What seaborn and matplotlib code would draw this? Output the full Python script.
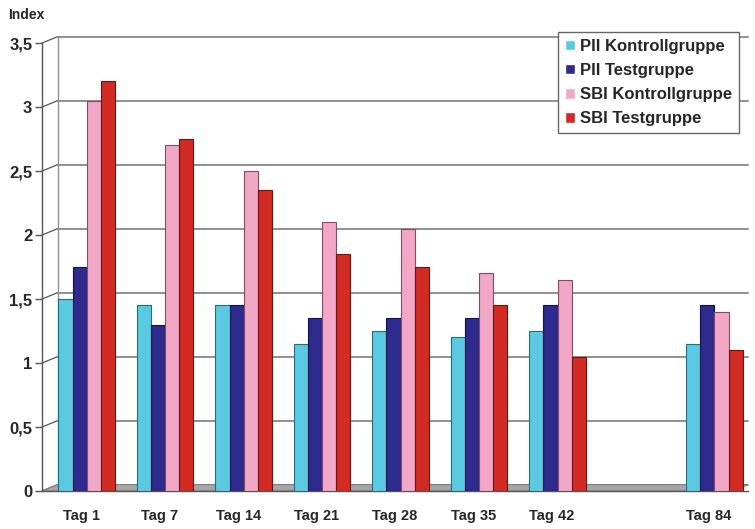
import matplotlib
matplotlib.use("Agg")
import matplotlib.pyplot as plt
import seaborn as sns
import pandas as pd
from matplotlib.patches import Polygon

categories = ["Tag 1", "Tag 7", "Tag 14", "Tag 21", "Tag 28", "Tag 35", "Tag 42", "", "Tag 84"]
series = ["PII Kontrollgruppe", "PII Testgruppe", "SBI Kontrollgruppe", "SBI Testgruppe"]
pii_kontroll = [1.5, 1.45, 1.45, 1.15, 1.25, 1.2, 1.25, None, 1.15]
pii_test = [1.75, 1.3, 1.45, 1.35, 1.35, 1.35, 1.45, None, 1.45]
sbi_kontroll = [3.05, 2.7, 2.5, 2.1, 2.05, 1.7, 1.65, None, 1.4]
sbi_test = [3.2, 2.75, 2.35, 1.85, 1.75, 1.45, 1.05, None, 1.1]
y_ticks = [0, 0.5, 1, 1.5, 2, 2.5, 3, 3.5]
y_tick_labels = ["0", "0,5", "1", "1,5", "2", "2,5", "3", "3,5"]

colors = ["#5CC9E3", "#2E2A8E", "#F3A7C6", "#D12B24"]
edges = ["#1E6F80", "#14124A", "#8A4A60", "#6E1410"]

rows = []
for s, vals in zip(series, [pii_kontroll, pii_test, sbi_kontroll, sbi_test]):
    for c, v in zip(categories, vals):
        if v is not None:
            rows.append({"Tag": c, "Gruppe": s, "Index": v})
df = pd.DataFrame(rows)

sns.set_theme(style="white")
plt.rcParams["font.family"] = ["Liberation Sans", "DejaVu Sans"]

fig = plt.figure(figsize=(7.55, 5.29), dpi=100)
ax = fig.add_axes([0.0556, 0.0718, 0.9354, 0.8469])

sns.barplot(data=df, x="Tag", y="Index", hue="Gruppe", order=categories,
            hue_order=series, palette=colors, width=0.72, saturation=1,
            ax=ax, zorder=3, legend=True)

for cont, ec in zip(ax.containers, edges):
    for bar in cont:
        bar.set_edgecolor(ec)
        bar.set_linewidth(0.8)
        bar.set_x(bar.get_x() + 0.07)

ax.set_xlim(-0.5, len(categories) - 0.5)
ax.set_ylim(0, 3.5)

# back-wall style gridlines with small perspective offset
dx, dy = 0.2, 0.05
for v in y_ticks:
    ax.plot([-0.5, -0.5 + dx], [v, v + dy], color="#555555", lw=0.9, zorder=1, clip_on=False)
    ax.plot([-0.5 + dx, len(categories) - 0.5], [v + dy, v + dy], color="#909090", lw=1.4, zorder=1, clip_on=False)
ax.plot([-0.5 + dx, -0.5 + dx], [dy, 3.5 + dy], color="#909090", lw=1.0, zorder=1, clip_on=False)

floor = Polygon([(-0.5, 0), (len(categories) - 0.5 - dx, 0), (len(categories) - 0.5, dy), (-0.5 + dx, dy)],
                closed=True, facecolor="#A6A6A6", edgecolor="#808080", lw=0.8, zorder=2)
ax.add_patch(floor)

ax.set_yticks(y_ticks)
ax.set_yticklabels(y_tick_labels, fontsize=12, fontweight="bold")
ax.set_xticks(range(len(categories)))
ax.set_xticklabels(categories, fontsize=10.5, fontweight="bold")
ax.set_xticks([i - 0.5 for i in range(len(categories) + 1)], minor=True)
ax.tick_params(axis="x", which="major", length=0, pad=13)
ax.tick_params(axis="x", which="minor", length=5, width=1, color="#555555", direction="out")
ax.tick_params(axis="y", length=5, width=1, color="#555555", direction="out", left=True, pad=2)
ax.set_xlabel("")
ax.set_ylabel("")
for side in ["top", "right"]:
    ax.spines[side].set_visible(False)
for side in ["left", "bottom"]:
    ax.spines[side].set_color("#555555")
    ax.spines[side].set_linewidth(1)

fig.text(0.011, 0.972, "Index", fontsize=10, fontweight="bold", ha="left", va="center")

handles, labels = ax.get_legend_handles_labels()
ax.legend(handles, labels, loc="upper left", bbox_to_anchor=(0.728, 0.955),
          bbox_transform=fig.transFigure, frameon=True, fancybox=False,
          edgecolor="#666666", framealpha=1,
          prop={"weight": "bold", "size": 12}, handlelength=0.6, handleheight=0.6,
          handletextpad=0.35, borderpad=0.4, labelspacing=0.55)

fig.savefig("out.png", dpi=100)
